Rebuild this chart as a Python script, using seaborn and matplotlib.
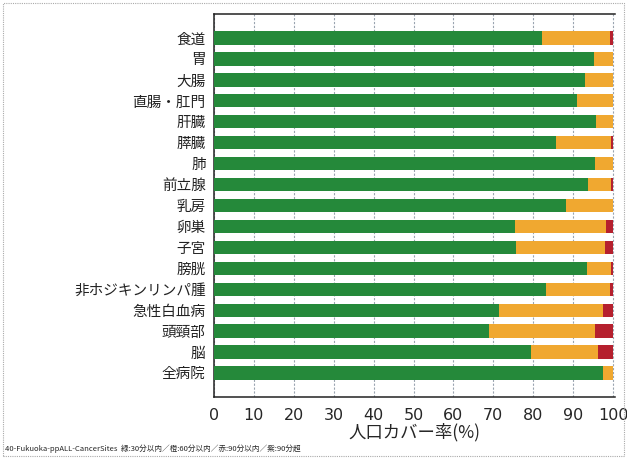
import matplotlib
matplotlib.use("Agg")
import matplotlib.pyplot as plt
import seaborn as sns
import pandas as pd
from matplotlib.patches import Rectangle

sites = ["食道", "胃", "大腸", "直腸・肛門", "肝臓", "膵臓", "肺", "前立腺", "乳房",
         "卵巣", "子宮", "膀胱", "非ホジキンリンパ腫", "急性白血病", "頭頸部", "脳", "全病院"]
within30 = [82.1, 95.3, 92.9, 91.1, 95.7, 85.7, 95.5, 93.8, 88.1,
            75.5, 75.7, 93.5, 83.3, 71.5, 69.0, 79.5, 97.6]
within60 = [17.2, 4.6, 7.1, 8.9, 4.3, 13.7, 4.5, 5.8, 11.9,
            22.8, 22.4, 6.1, 16.0, 26.0, 26.4, 16.8, 2.4]
within90 = [0.7, 0.1, 0.0, 0.0, 0.0, 0.6, 0.0, 0.4, 0.0,
            1.7, 1.9, 0.4, 0.7, 2.5, 4.6, 3.7, 0.0]
over90 = [0.0, 0.0, 0.0, 0.0, 0.0, 0.0, 0.0, 0.0, 0.0,
          0.0, 0.0, 0.0, 0.0, 0.0, 0.0, 0.0, 0.0]

df = pd.DataFrame({"site": sites, "g": within30, "o": within60, "r": within90, "p": over90})
df["c1"] = df["g"]
df["c2"] = df["c1"] + df["o"]
df["c3"] = df["c2"] + df["r"]
df["c4"] = df["c3"] + df["p"]

sns.set_style("white")
plt.rcParams["font.family"] = ["Noto Sans CJK JP", "DejaVu Sans"]

fig = plt.figure(figsize=(6.27, 4.59), dpi=100)
ax = fig.add_axes([214 / 627, 1 - 397 / 459, 401 / 627, 383 / 459])

# stacked bars: draw cumulative totals from the longest down
layers = [("c4", "#8B2A8B"), ("c3", "#B5202E"), ("c2", "#F0A830"), ("c1", "#25893A")]
for col, color in layers:
    sns.barplot(data=df, x=col, y="site", orient="h", color=color, width=0.63,
                saturation=1, linewidth=0, ax=ax, zorder=3)

ax.set_xlim(0, 100.5)
ax.set_ylim(16 + 1.15, -1.15)
ax.set_xticks(range(0, 101, 10))
ax.xaxis.grid(True, color="#9aa4b0", linestyle=(0, (2, 1.5)), linewidth=0.8)
ax.set_axisbelow(True)
ax.tick_params(axis="x", direction="in", length=4, labelsize=11.5, pad=8, color="#555")
ax.tick_params(axis="y", length=0, labelsize=10.5, pad=6)
for lab in ax.get_xticklabels():
    lab.set_family("DejaVu Sans")
for lab in ax.get_yticklabels():
    lab.set_color("#222")
ax.set_ylabel("")
ax.set_xlabel("人口カバー率(%)", fontsize=12.5, labelpad=0)
for side in ["left", "top", "bottom"]:
    ax.spines[side].set_color("#222")
    ax.spines[side].set_linewidth(1.1)
ax.spines["right"].set_visible(False)

fig.text(5 / 627, 1 - 449 / 459,
         "40-Fukuoka-ppALL-CancerSites  緑:30分以内／橙:60分以内／赤:90分以内／紫:90分超",
         fontsize=5.5, va="center", ha="left")

fig.patches.append(Rectangle((3 / 627, 3 / 459), 1 - 6 / 627, 1 - 6 / 459,
                             transform=fig.transFigure, fill=False,
                             edgecolor="#aaa", linewidth=0.8, linestyle=(0, (1, 1))))

fig.savefig("out.png", dpi=100)
